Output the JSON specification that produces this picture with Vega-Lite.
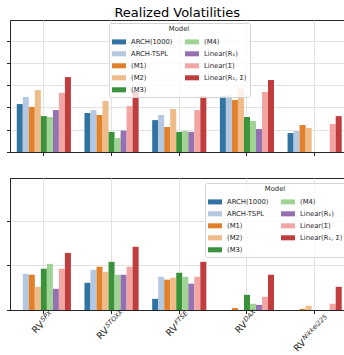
{
  "$schema": "https://vega.github.io/schema/vega-lite/v6.json",
  "autosize": {"type": "pad"},
  "padding": {"left": 5, "top": 6, "right": 0, "bottom": 0},
  "title": {"text": "Realized Volatilities", "font": "DejaVu Sans", "fontSize": 13, "fontWeight": "normal", "color": "#000000", "anchor": "middle", "baseline": "alphabetic", "offset": -10},
  "config": {
    "font": "DejaVu Sans",
    "view": {"stroke": "#262626", "strokeWidth": 1},
    "axis": {"domainColor": "#262626", "domainWidth": 1, "tickColor": "#262626", "tickSize": 3.5, "tickWidth": 1, "gridColor": "#e2e2e2", "gridWidth": 1, "labels": false},
    "legend": {
      "orient": "none",
      "titleAnchor": "middle", "titleFont": "DejaVu Sans", "titleFontSize": 6.8, "titleFontWeight": "normal", "titleColor": "#262626", "titlePadding": 2,
      "labelFont": "DejaVu Sans", "labelFontSize": 6.8, "labelColor": "#262626", "labelOffset": 5,
      "columns": 2, "columnPadding": 12, "rowPadding": 1.0,
      "symbolType": "M-1,-0.36H1V0.36H-1Z", "symbolSize": 196, "symbolStrokeWidth": 0, "symbolOpacity": 1,
      "padding": 3, "strokeColor": "#d4d4d4", "fillColor": "rgba(255,255,255,0.8)", "cornerRadius": 2
    }
  },
  "datasets": {
    "rv": [
      {"panel": "a", "index": "SPX", "model": "ARCH(1000)", "value": 2.15},
      {"panel": "a", "index": "SPX", "model": "ARCH-TSPL", "value": 2.47},
      {"panel": "a", "index": "SPX", "model": "(M1)", "value": 2.02},
      {"panel": "a", "index": "SPX", "model": "(M2)", "value": 2.78},
      {"panel": "a", "index": "SPX", "model": "(M3)", "value": 1.61},
      {"panel": "a", "index": "SPX", "model": "(M4)", "value": 1.57},
      {"panel": "a", "index": "SPX", "model": "Linear(R₁)", "value": 1.88},
      {"panel": "a", "index": "SPX", "model": "Linear(Σ)", "value": 2.65},
      {"panel": "a", "index": "SPX", "model": "Linear(R₁, Σ)", "value": 3.36},
      {"panel": "a", "index": "STOXX", "model": "ARCH(1000)", "value": 1.75},
      {"panel": "a", "index": "STOXX", "model": "ARCH-TSPL", "value": 1.88},
      {"panel": "a", "index": "STOXX", "model": "(M1)", "value": 1.66},
      {"panel": "a", "index": "STOXX", "model": "(M2)", "value": 2.29},
      {"panel": "a", "index": "STOXX", "model": "(M3)", "value": 0.9},
      {"panel": "a", "index": "STOXX", "model": "(M4)", "value": 0.63},
      {"panel": "a", "index": "STOXX", "model": "Linear(R₁)", "value": 0.96},
      {"panel": "a", "index": "STOXX", "model": "Linear(Σ)", "value": 2.06},
      {"panel": "a", "index": "STOXX", "model": "Linear(R₁, Σ)", "value": 2.74},
      {"panel": "a", "index": "FTSE", "model": "ARCH(1000)", "value": 1.43},
      {"panel": "a", "index": "FTSE", "model": "ARCH-TSPL", "value": 1.66},
      {"panel": "a", "index": "FTSE", "model": "(M1)", "value": 1.12},
      {"panel": "a", "index": "FTSE", "model": "(M2)", "value": 1.93},
      {"panel": "a", "index": "FTSE", "model": "(M3)", "value": 0.9},
      {"panel": "a", "index": "FTSE", "model": "(M4)", "value": 0.94},
      {"panel": "a", "index": "FTSE", "model": "Linear(R₁)", "value": 0.9},
      {"panel": "a", "index": "FTSE", "model": "Linear(Σ)", "value": 1.88},
      {"panel": "a", "index": "FTSE", "model": "Linear(R₁, Σ)", "value": 2.51},
      {"panel": "a", "index": "DAX", "model": "ARCH(1000)", "value": 2.51},
      {"panel": "a", "index": "DAX", "model": "ARCH-TSPL", "value": 2.56},
      {"panel": "a", "index": "DAX", "model": "(M1)", "value": 2.33},
      {"panel": "a", "index": "DAX", "model": "(M2)", "value": 2.83},
      {"panel": "a", "index": "DAX", "model": "(M3)", "value": 1.57},
      {"panel": "a", "index": "DAX", "model": "(M4)", "value": 1.39},
      {"panel": "a", "index": "DAX", "model": "Linear(R₁)", "value": 1.03},
      {"panel": "a", "index": "DAX", "model": "Linear(Σ)", "value": 2.69},
      {"panel": "a", "index": "DAX", "model": "Linear(R₁, Σ)", "value": 3.23},
      {"panel": "a", "index": "Nikkei225", "model": "ARCH(1000)", "value": 0.85},
      {"panel": "a", "index": "Nikkei225", "model": "ARCH-TSPL", "value": 0.94},
      {"panel": "a", "index": "Nikkei225", "model": "(M1)", "value": 1.21},
      {"panel": "a", "index": "Nikkei225", "model": "(M2)", "value": 1.08},
      {"panel": "a", "index": "Nikkei225", "model": "Linear(Σ)", "value": 1.26},
      {"panel": "a", "index": "Nikkei225", "model": "Linear(R₁, Σ)", "value": 1.61},
      {"panel": "b", "index": "SPX", "model": "ARCH-TSPL", "value": 1.62},
      {"panel": "b", "index": "SPX", "model": "(M1)", "value": 1.58},
      {"panel": "b", "index": "SPX", "model": "(M2)", "value": 1.04},
      {"panel": "b", "index": "SPX", "model": "(M3)", "value": 1.85},
      {"panel": "b", "index": "SPX", "model": "(M4)", "value": 2.07},
      {"panel": "b", "index": "SPX", "model": "Linear(R₁)", "value": 0.95},
      {"panel": "b", "index": "SPX", "model": "Linear(Σ)", "value": 1.85},
      {"panel": "b", "index": "SPX", "model": "Linear(R₁, Σ)", "value": 2.56},
      {"panel": "b", "index": "STOXX", "model": "ARCH(1000)", "value": 1.22},
      {"panel": "b", "index": "STOXX", "model": "ARCH-TSPL", "value": 1.8},
      {"panel": "b", "index": "STOXX", "model": "(M1)", "value": 1.94},
      {"panel": "b", "index": "STOXX", "model": "(M2)", "value": 1.71},
      {"panel": "b", "index": "STOXX", "model": "(M3)", "value": 2.16},
      {"panel": "b", "index": "STOXX", "model": "(M4)", "value": 1.58},
      {"panel": "b", "index": "STOXX", "model": "Linear(R₁)", "value": 1.58},
      {"panel": "b", "index": "STOXX", "model": "Linear(Σ)", "value": 1.94},
      {"panel": "b", "index": "STOXX", "model": "Linear(R₁, Σ)", "value": 2.84},
      {"panel": "b", "index": "FTSE", "model": "ARCH(1000)", "value": 0.5},
      {"panel": "b", "index": "FTSE", "model": "ARCH-TSPL", "value": 1.49},
      {"panel": "b", "index": "FTSE", "model": "(M1)", "value": 1.36},
      {"panel": "b", "index": "FTSE", "model": "(M2)", "value": 1.45},
      {"panel": "b", "index": "FTSE", "model": "(M3)", "value": 1.67},
      {"panel": "b", "index": "FTSE", "model": "(M4)", "value": 1.49},
      {"panel": "b", "index": "FTSE", "model": "Linear(R₁)", "value": 1.18},
      {"panel": "b", "index": "FTSE", "model": "Linear(Σ)", "value": 1.49},
      {"panel": "b", "index": "FTSE", "model": "Linear(R₁, Σ)", "value": 2.16},
      {"panel": "b", "index": "DAX", "model": "(M1)", "value": 0.09},
      {"panel": "b", "index": "DAX", "model": "(M3)", "value": 0.68},
      {"panel": "b", "index": "DAX", "model": "(M4)", "value": 0.28},
      {"panel": "b", "index": "DAX", "model": "Linear(R₁)", "value": 0.23},
      {"panel": "b", "index": "DAX", "model": "Linear(Σ)", "value": 0.59},
      {"panel": "b", "index": "DAX", "model": "Linear(R₁, Σ)", "value": 1.58},
      {"panel": "b", "index": "Nikkei225", "model": "(M1)", "value": 0.05},
      {"panel": "b", "index": "Nikkei225", "model": "(M2)", "value": 0.19},
      {"panel": "b", "index": "Nikkei225", "model": "Linear(Σ)", "value": 0.28},
      {"panel": "b", "index": "Nikkei225", "model": "Linear(R₁, Σ)", "value": 1.04}
    ],
    "labels": [
      {"index": "SPX", "sup": "SPX"},
      {"index": "STOXX", "sup": "STOXX"},
      {"index": "FTSE", "sup": "FTSE"},
      {"index": "DAX", "sup": "DAX"},
      {"index": "Nikkei225", "sup": "Nikkei225"}
    ]
  },
  "bounds": "flush",
  "spacing": 26,
  "resolve": {"scale": {"color": "independent"}, "legend": {"color": "independent"}},
  "vconcat": [
    {
      "width": 338.5,
      "height": 132,
      "data": {"name": "rv"},
      "transform": [{"filter": "datum.panel === 'a'"}],
      "mark": {"type": "bar"},
      "encoding": {
        "x": {"field": "index", "type": "nominal", "sort": null,
              "scale": {"domain": ["SPX", "STOXX", "FTSE", "DAX", "Nikkei225"], "paddingInner": 0.2, "paddingOuter": 0.1},
              "axis": {"title": null, "labels": false, "grid": true}},
        "xOffset": {"field": "model", "type": "nominal",
                    "scale": {"domain": ["ARCH(1000)", "ARCH-TSPL", "(M1)", "(M2)", "(M3)", "(M4)", "Linear(R₁)", "Linear(Σ)", "Linear(R₁, Σ)"], "paddingInner": 0, "paddingOuter": 0}},
        "y": {"field": "value", "type": "quantitative",
              "scale": {"domain": [0, 5.92], "nice": false, "zero": true},
              "axis": {"title": null, "labels": false, "values": [0, 1, 2, 3, 4, 5], "grid": true}},
        "color": {"field": "model", "type": "nominal",
                  "scale": {"domain": ["ARCH(1000)", "ARCH-TSPL", "(M1)", "(M2)", "(M3)", "(M4)", "Linear(R₁)", "Linear(Σ)", "Linear(R₁, Σ)"],
                            "range": ["#3274a1", "#b5c8e1", "#e1812c", "#eebb89", "#3a923a", "#9fd495", "#9472b2", "#f2a5a3", "#c03d3e"]},
                  "legend": {"title": "Model", "legendX": 99, "legendY": 3}}
      }
    },
    {
      "width": 338.5,
      "height": 132,
      "encoding": {
        "x": {"field": "index", "type": "nominal", "sort": null,
              "scale": {"domain": ["SPX", "STOXX", "FTSE", "DAX", "Nikkei225"], "paddingInner": 0.2, "paddingOuter": 0.1},
              "axis": {"title": null, "labels": false, "grid": true}}
      },
      "layer": [
        {
          "data": {"name": "rv"},
          "transform": [{"filter": "datum.panel === 'b'"}],
          "mark": {"type": "bar"},
          "encoding": {
            "xOffset": {"field": "model", "type": "nominal",
                        "scale": {"domain": ["ARCH(1000)", "ARCH-TSPL", "(M1)", "(M2)", "(M3)", "(M4)", "Linear(R₁)", "Linear(Σ)", "Linear(R₁, Σ)"], "paddingInner": 0, "paddingOuter": 0}},
            "y": {"field": "value", "type": "quantitative",
                  "scale": {"domain": [0, 5.92], "nice": false, "zero": true},
                  "axis": {"title": null, "labels": false, "values": [0, 1, 2, 3, 4, 5], "grid": true}},
            "color": {"field": "model", "type": "nominal",
                      "scale": {"domain": ["ARCH(1000)", "ARCH-TSPL", "(M1)", "(M2)", "(M3)", "(M4)", "Linear(R₁)", "Linear(Σ)", "Linear(R₁, Σ)"],
                                "range": ["#3274a1", "#b5c8e1", "#e1812c", "#eebb89", "#3a923a", "#9fd495", "#9472b2", "#f2a5a3", "#c03d3e"]},
                      "legend": {"title": "Model", "legendX": 195, "legendY": 5}}
          }
        },
        {
          "data": {"name": "labels"},
          "mark": {"type": "text", "text": "RV", "font": "DejaVu Sans", "fontSize": 9.5, "color": "#262626",
                   "angle": -45, "align": "left", "baseline": "alphabetic",
                   "dx": {"expr": "-0.75 * (13.6 + length(datum.sup) * 4.3) - 2.75"},
                   "dy": {"expr": "0.25 * (13.6 + length(datum.sup) * 4.3) + 4.7"}},
          "encoding": {
            "y": {"datum": 0, "type": "quantitative"}
          }
        },
        {
          "data": {"name": "labels"},
          "mark": {"type": "text", "font": "DejaVu Sans", "fontSize": 6.5, "fontStyle": "italic", "color": "#262626",
                   "angle": -45, "align": "left", "baseline": "alphabetic",
                   "dx": {"expr": "-0.75 * (13.6 + length(datum.sup) * 4.3) - 2.75 + 13.6"},
                   "dy": {"expr": "0.25 * (13.6 + length(datum.sup) * 4.3) + 4.7 - 3.5"}},
          "encoding": {
            "y": {"datum": 0, "type": "quantitative"},
            "text": {"field": "sup", "type": "nominal"}
          }
        }
      ]
    }
  ]
}
